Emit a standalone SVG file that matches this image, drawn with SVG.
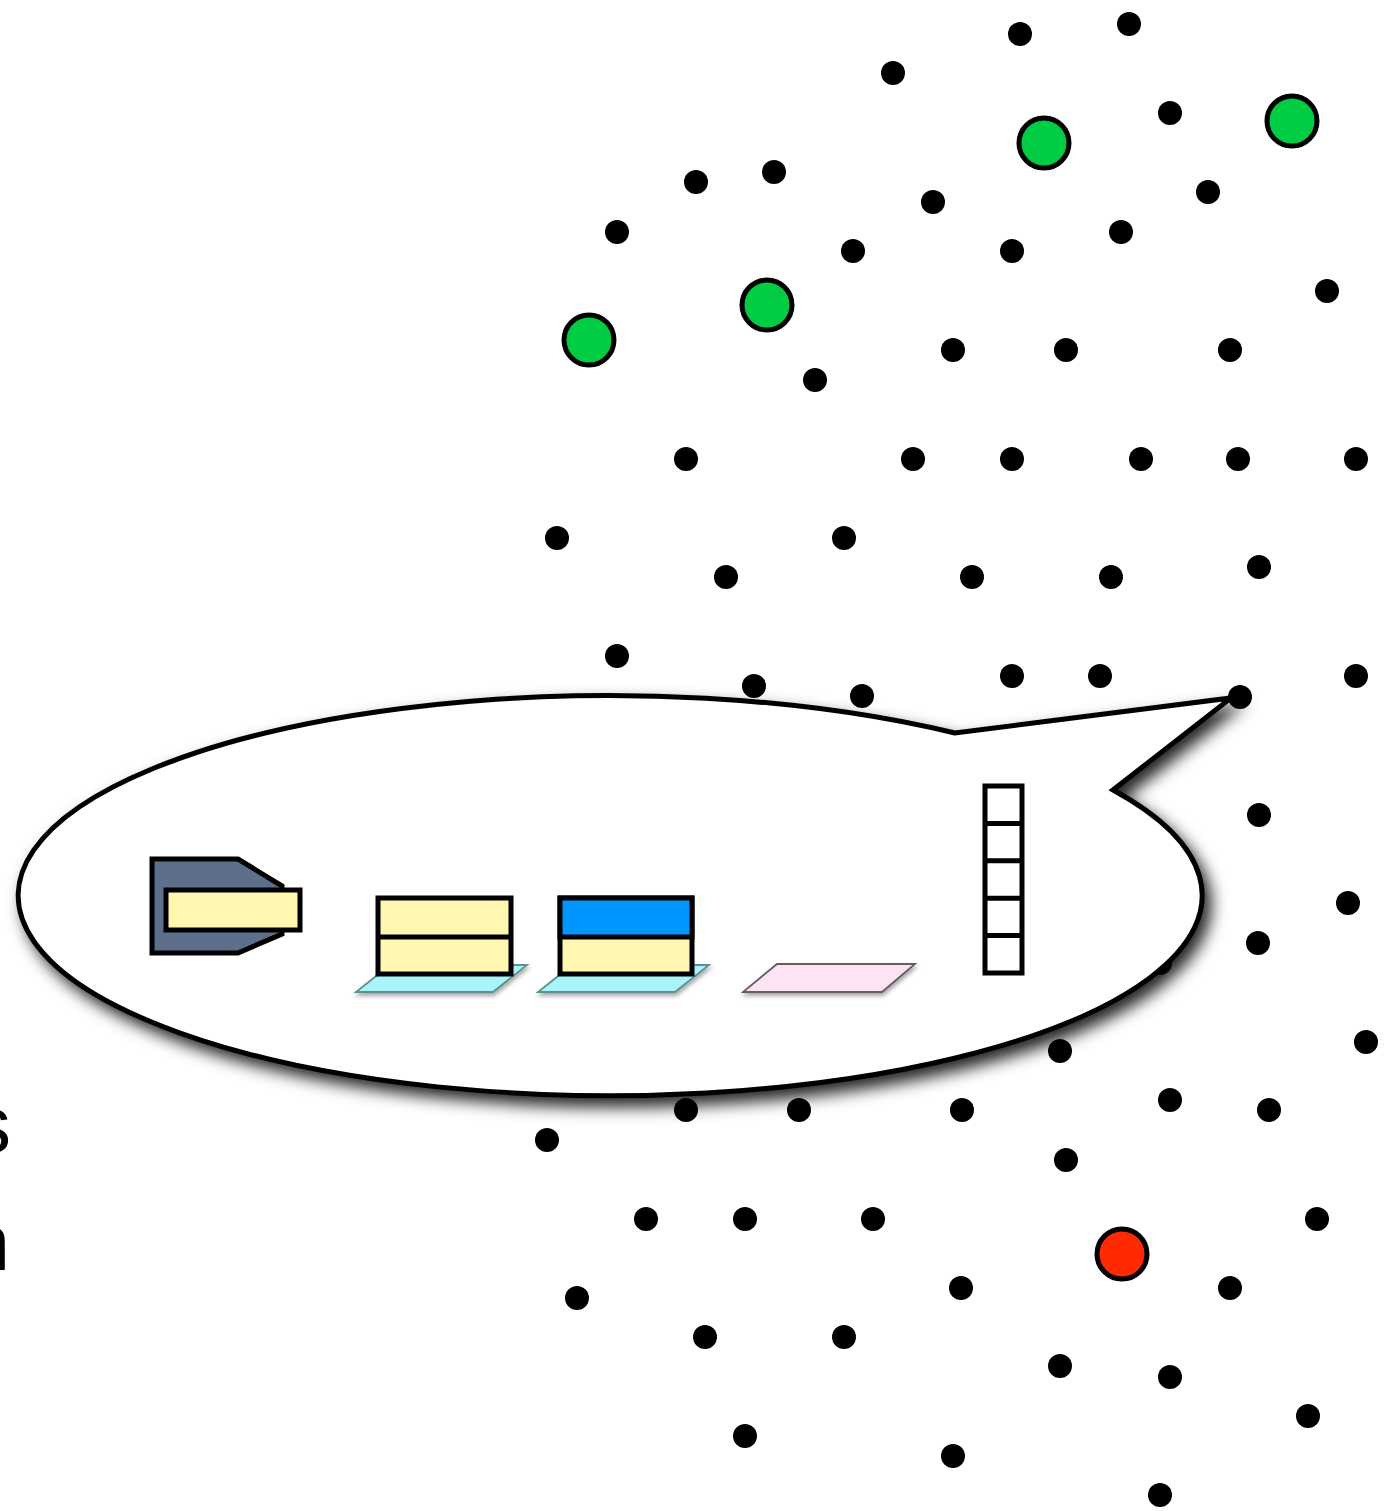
<svg xmlns="http://www.w3.org/2000/svg" width="1391" height="1511" viewBox="0 0 1391 1511">
  <style>
    .dot { fill: #000; }
    .big { stroke: #000; stroke-width: 5; }
    .green { fill: #00cc44; }
    .red { fill: #ff2a00; }
    .frame { stroke: #000; stroke-width: 5; }
    .screen { fill: #fff7b0; }
    .base { stroke-width: 1.8; }
    .side { font-family: "Liberation Sans", Arial, sans-serif; font-size: 80px; fill: #000; text-anchor: end; }
  </style>
  <defs>
    <filter id="bubbleShadow" x="-10%" y="-20%" width="125%" height="150%">
      <feDropShadow dx="7" dy="9" stdDeviation="8" flood-color="#000" flood-opacity="0.85"/>
    </filter>
    <filter id="softShadow" x="-10%" y="-50%" width="125%" height="250%">
      <feDropShadow dx="1" dy="3" stdDeviation="2" flood-color="#000" flood-opacity="0.35"/>
    </filter>
  </defs>
  <rect width="1391" height="1511" fill="#fff"/>

  <!-- text running off the left border -->
  <text class="side" x="11" y="1152">s</text>
  <text class="side" x="10" y="1270">n</text>

  <!-- field of points -->
  <g id="points">
    <circle class="dot" cx="1020" cy="34" r="12"/>
    <circle class="dot" cx="1129" cy="24" r="12"/>
    <circle class="dot" cx="893" cy="73" r="12"/>
    <circle class="dot" cx="1170" cy="113" r="12"/>
    <circle class="dot" cx="696" cy="182" r="12"/>
    <circle class="dot" cx="774" cy="172" r="12"/>
    <circle class="dot" cx="933" cy="202" r="12"/>
    <circle class="dot" cx="1208" cy="192" r="12"/>
    <circle class="dot" cx="617" cy="232" r="12"/>
    <circle class="dot" cx="853" cy="251" r="12"/>
    <circle class="dot" cx="1012" cy="251" r="12"/>
    <circle class="dot" cx="1121" cy="232" r="12"/>
    <circle class="dot" cx="1327" cy="291" r="12"/>
    <circle class="dot" cx="953" cy="350" r="12"/>
    <circle class="dot" cx="1066" cy="350" r="12"/>
    <circle class="dot" cx="1230" cy="350" r="12"/>
    <circle class="dot" cx="815" cy="380" r="12"/>
    <circle class="dot" cx="686" cy="459" r="12"/>
    <circle class="dot" cx="913" cy="459" r="12"/>
    <circle class="dot" cx="1012" cy="459" r="12"/>
    <circle class="dot" cx="1141" cy="459" r="12"/>
    <circle class="dot" cx="1238" cy="459" r="12"/>
    <circle class="dot" cx="1356" cy="459" r="12"/>
    <circle class="dot" cx="557" cy="538" r="12"/>
    <circle class="dot" cx="844" cy="538" r="12"/>
    <circle class="dot" cx="726" cy="577" r="12"/>
    <circle class="dot" cx="972" cy="577" r="12"/>
    <circle class="dot" cx="1111" cy="577" r="12"/>
    <circle class="dot" cx="1259" cy="567" r="12"/>
    <circle class="dot" cx="617" cy="656" r="12"/>
    <circle class="dot" cx="754" cy="686" r="12"/>
    <circle class="dot" cx="862" cy="696" r="12"/>
    <circle class="dot" cx="1012" cy="676" r="12"/>
    <circle class="dot" cx="1100" cy="676" r="12"/>
    <circle class="dot" cx="1356" cy="676" r="12"/>
    <circle class="dot" cx="1259" cy="815" r="12"/>
    <circle class="dot" cx="1348" cy="903" r="12"/>
    <circle class="dot" cx="1258" cy="943" r="12"/>
    <circle class="dot" cx="1160" cy="963" r="12"/>
    <circle class="dot" cx="1060" cy="1051" r="12"/>
    <circle class="dot" cx="1366" cy="1042" r="12"/>
    <circle class="dot" cx="686" cy="1110" r="12"/>
    <circle class="dot" cx="799" cy="1110" r="12"/>
    <circle class="dot" cx="962" cy="1110" r="12"/>
    <circle class="dot" cx="1170" cy="1100" r="12"/>
    <circle class="dot" cx="1269" cy="1110" r="12"/>
    <circle class="dot" cx="547" cy="1140" r="12"/>
    <circle class="dot" cx="1066" cy="1160" r="12"/>
    <circle class="dot" cx="646" cy="1219" r="12"/>
    <circle class="dot" cx="745" cy="1219" r="12"/>
    <circle class="dot" cx="873" cy="1219" r="12"/>
    <circle class="dot" cx="1317" cy="1219" r="12"/>
    <circle class="dot" cx="577" cy="1298" r="12"/>
    <circle class="dot" cx="961" cy="1288" r="12"/>
    <circle class="dot" cx="1230" cy="1288" r="12"/>
    <circle class="dot" cx="705" cy="1337" r="12"/>
    <circle class="dot" cx="844" cy="1337" r="12"/>
    <circle class="dot" cx="1060" cy="1366" r="12"/>
    <circle class="dot" cx="1170" cy="1377" r="12"/>
    <circle class="dot" cx="1308" cy="1416" r="12"/>
    <circle class="dot" cx="745" cy="1436" r="12"/>
    <circle class="dot" cx="953" cy="1456" r="12"/>
    <circle class="dot" cx="1160" cy="1495" r="12"/>
  </g>

  <!-- highlighted points -->
  <g id="marked">
    <circle class="big green" cx="1044" cy="143" r="25"/>
    <circle class="big green" cx="1292" cy="121" r="25"/>
    <circle class="big green" cx="767" cy="305" r="25"/>
    <circle class="big green" cx="589" cy="340" r="25"/>
    <circle class="big red" cx="1122" cy="1254" r="25"/>
  </g>

  <!-- speech bubble -->
  <g id="bubble">
    <path d="M 1113 790 A 592 200 0 1 1 955 733 L 1231 698 Z" fill="#fff" stroke="#000" stroke-width="5" stroke-linejoin="miter" filter="url(#bubbleShadow)"/>
  </g>
  <circle id="tip-point" class="dot" cx="1240" cy="697" r="12"/>

  <!-- contents of the bubble -->
  <g id="card-reader">
    <polygon points="152,859 238,859 282,886 282,934 238,953 152,953" fill="#5d6f8a" stroke="#000" stroke-width="5" stroke-linejoin="miter"/>
    <rect x="166" y="890" width="134" height="40" class="screen" stroke="#000" stroke-width="5"/>
  </g>

  <g id="laptop-1">
    <polygon class="base" points="356,992 493,992 527,965 390,965" fill="#a8f4fa" stroke="#5f8f90" filter="url(#softShadow)"/>
    <rect x="378" y="898" width="133" height="76" class="screen frame"/>
    <line x1="378" y1="937" x2="511" y2="937" class="frame"/>
  </g>

  <g id="laptop-2">
    <polygon class="base" points="538,992 675,992 709,965 572,965" fill="#a8f4fa" stroke="#5f8f90" filter="url(#softShadow)"/>
    <rect x="560" y="898" width="132" height="76" class="screen frame"/>
    <rect x="560" y="898" width="132" height="39" fill="#0096ff" class="frame"/>
  </g>

  <g id="pad">
    <polygon class="base" points="743,992 882,992 915,964 777,964" fill="#fce4f4" stroke="#6a5a62" filter="url(#softShadow)"/>
  </g>

  <g id="stack">
    <rect x="985" y="786" width="37" height="187" fill="#fff" class="frame"/>
    <line x1="985" y1="823.4" x2="1022" y2="823.4" class="frame"/>
    <line x1="985" y1="860.8" x2="1022" y2="860.8" class="frame"/>
    <line x1="985" y1="898.2" x2="1022" y2="898.2" class="frame"/>
    <line x1="985" y1="935.6" x2="1022" y2="935.6" class="frame"/>
  </g>
</svg>
